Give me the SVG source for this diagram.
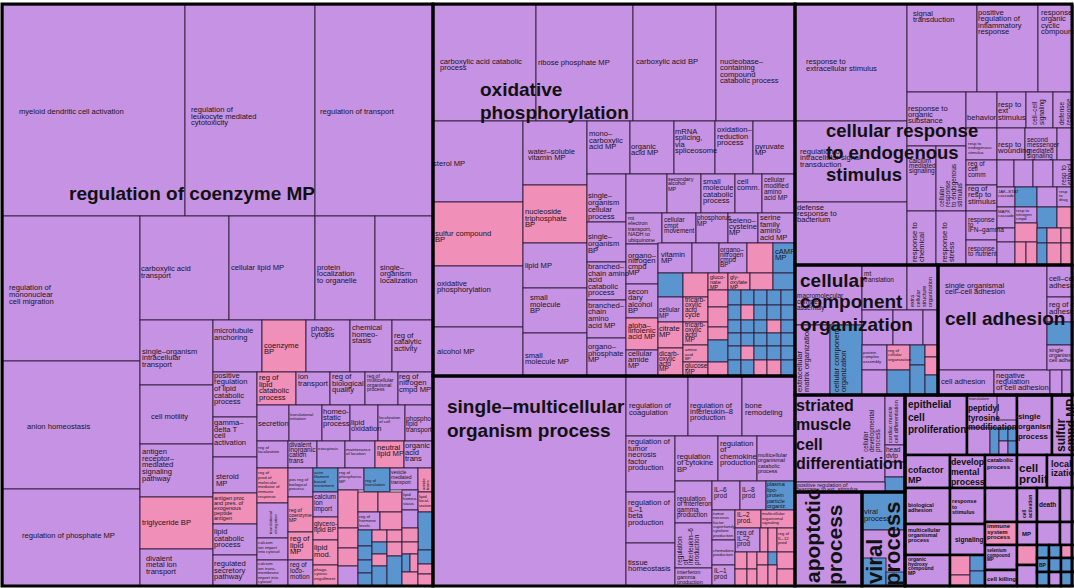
<svg xmlns="http://www.w3.org/2000/svg" width="1074" height="588" viewBox="0 0 1074 588">
<style>
.p{fill:#c692e3;stroke:#2e1c38;stroke-width:.9}
.k{fill:#f08fb8;stroke:#2e1c38;stroke-width:.9}
.b{fill:#5b95cf;stroke:#2e1c38;stroke-width:.9}
.q{stroke:#000;stroke-width:2.5}
text{font-family:"Liberation Sans",Arial,Helvetica,sans-serif;fill:#1c1420}
.t{font-size:7.6px}
.u{font-size:6.5px}
.v{font-size:5.5px}
.s{font-size:5px}
.x{font-size:4.3px}
.B{font-weight:bold;fill:#111}
.L{font-size:19px;font-weight:bold;fill:#111}
</style>
<rect width="1074" height="588" fill="#fff"/>

<g id="node-regulation-of-coenzyme-MP">
<rect class="p" x="3" y="5" width="182" height="211"/>
<rect class="p" x="185" y="5" width="130" height="211"/>
<rect class="p" x="315" y="5" width="118" height="211"/>
<rect class="p" x="3" y="216" width="137" height="145"/>
<rect class="p" x="140" y="216" width="89" height="104"/>
<rect class="p" x="229" y="216" width="86" height="104"/>
<rect class="p" x="315" y="216" width="60" height="104"/>
<rect class="p" x="375" y="216" width="58" height="104"/>
<rect class="p" x="3" y="361" width="137" height="128"/>
<rect class="p" x="3" y="489" width="137" height="97"/>
<rect class="p" x="140" y="320" width="73" height="65"/>
<rect class="p" x="140" y="385" width="73" height="59"/>
<rect class="p" x="140" y="444" width="73" height="53"/>
<rect class="k" x="140" y="497" width="73" height="52"/>
<rect class="p" x="140" y="549" width="73" height="37"/>
<rect class="p" x="213" y="320" width="49" height="52"/>
<rect class="k" x="262" y="320" width="44" height="52"/>
<rect class="p" x="306" y="320" width="44" height="52"/>
<rect class="p" x="350" y="320" width="42" height="52"/>
<rect class="p" x="392" y="320" width="41" height="52"/>
<rect class="p" x="213" y="372" width="44" height="45"/>
<rect class="k" x="257" y="372" width="39" height="33"/>
<rect class="p" x="296" y="372" width="34" height="33"/>
<rect class="p" x="330" y="372" width="35" height="33"/>
<rect class="p" x="365" y="372" width="33" height="33"/>
<rect class="p" x="398" y="372" width="35" height="33"/>
<rect class="p" x="213" y="417" width="44" height="40"/>
<rect class="p" x="213" y="457" width="44" height="36"/>
<rect class="k" x="213" y="493" width="44" height="31"/>
<rect class="p" x="213" y="524" width="44" height="31"/>
<rect class="p" x="213" y="555" width="44" height="31"/>
<rect class="p" x="257" y="405" width="32" height="36"/>
<rect class="p" x="289" y="405" width="33" height="36"/>
<rect class="p" x="322" y="405" width="28" height="36"/>
<rect class="p" x="350" y="405" width="28" height="36"/>
<rect class="p" x="378" y="405" width="27" height="36"/>
<rect class="p" x="405" y="405" width="28" height="36"/>
<rect class="p" x="257" y="441" width="31" height="27"/>
<rect class="p" x="288" y="441" width="29" height="27"/>
<rect class="p" x="317" y="441" width="28" height="27"/>
<rect class="p" x="345" y="441" width="30" height="27"/>
<rect class="k" x="375" y="441" width="29" height="27"/>
<rect class="p" x="404" y="441" width="29" height="27"/>
<rect class="k" x="257" y="468" width="31" height="35"/>
<rect class="p" x="257" y="503" width="31" height="35"/>
<rect class="p" x="257" y="538" width="31" height="22"/>
<rect class="p" x="257" y="560" width="31" height="26"/>
<rect class="p" x="288" y="468" width="25" height="29"/>
<rect class="k" x="288" y="497" width="25" height="35"/>
<rect class="k" x="288" y="532" width="25" height="28"/>
<rect class="p" x="288" y="560" width="25" height="26"/>
<rect class="b" x="313" y="468" width="25" height="24"/>
<rect class="p" x="313" y="492" width="25" height="25"/>
<rect class="k" x="313" y="517" width="25" height="23"/>
<rect class="k" x="313" y="540" width="25" height="25"/>
<rect class="k" x="313" y="565" width="25" height="21"/>
<rect class="p" x="338" y="468" width="26" height="22"/>
<rect class="b" x="364" y="468" width="26" height="24"/>
<rect class="p" x="390" y="468" width="28" height="22"/>
<rect class="k" x="418" y="468" width="15" height="24"/>
<rect class="k" x="338" y="490" width="20" height="38"/>
<rect class="k" x="358" y="492" width="20" height="20"/>
<rect class="k" x="378" y="492" width="24" height="20"/>
<rect class="p" x="402" y="490" width="16" height="20"/>
<rect class="k" x="418" y="492" width="15" height="20"/>
<rect class="p" x="358" y="512" width="22" height="18"/>
<rect class="k" x="380" y="512" width="22" height="18"/>
<rect class="p" x="402" y="510" width="16" height="18"/>
<rect class="b" x="418" y="512" width="15" height="38"/>
<rect class="k" x="338" y="528" width="20" height="20"/>
<rect class="k" x="338" y="548" width="20" height="18"/>
<rect class="p" x="338" y="566" width="20" height="20"/>
<rect class="b" x="358" y="530" width="14" height="16"/>
<rect class="b" x="358" y="546" width="14" height="14"/>
<rect class="b" x="358" y="560" width="14" height="13"/>
<rect class="b" x="358" y="573" width="14" height="13"/>
<rect class="k" x="372" y="530" width="15" height="12"/>
<rect class="b" x="372" y="542" width="15" height="12"/>
<rect class="k" x="372" y="554" width="15" height="12"/>
<rect class="b" x="372" y="566" width="15" height="20"/>
<rect class="k" x="387" y="530" width="15" height="12"/>
<rect class="k" x="387" y="542" width="15" height="14"/>
<rect class="b" x="387" y="556" width="15" height="30"/>
<rect class="k" x="402" y="528" width="16" height="14"/>
<rect class="k" x="402" y="542" width="16" height="12"/>
<rect class="b" x="402" y="554" width="8" height="18"/>
<rect class="k" x="410" y="554" width="8" height="18"/>
<rect class="k" x="402" y="572" width="16" height="14"/>
<rect class="b" x="418" y="550" width="15" height="14"/>
<rect class="k" x="418" y="564" width="15" height="10"/>
<rect class="k" x="418" y="574" width="15" height="12"/>
<text class="t" x="19" y="113.5">myeloid dendritic cell activation</text>
<text class="t" x="191" y="112">regulation of<tspan x="191" dy="6.7">leukocyte mediated</tspan><tspan x="191" dy="6.7">cytotoxicity</tspan></text>
<text class="t" x="320" y="113.5">regulation of transport</text>
<text class="t" x="9" y="290">regulation of<tspan x="9" dy="7">mononuclear</tspan><tspan x="9" dy="7">cell migration</tspan></text>
<text class="t" x="141" y="271">carboxylic acid<tspan x="141" dy="6.7">transport</tspan></text>
<text class="t" x="231" y="269.5">cellular lipid MP</text>
<text class="t" x="317" y="269.5">protein<tspan x="317" dy="6.7">localization</tspan><tspan x="317" dy="6.7">to organelle</tspan></text>
<text class="t" x="380" y="269.5">single–<tspan x="380" dy="6.7">organism</tspan><tspan x="380" dy="6.7">localization</tspan></text>
<text class="t" x="27" y="428.5">anion homeostasis</text>
<text class="t" x="22" y="538">regulation of phosphate MP</text>
<text class="t" x="142" y="353.5">single–organism<tspan x="142" dy="6.7">intracellular</tspan><tspan x="142" dy="6.7">transport</tspan></text>
<text class="t" x="151" y="418.5">cell motility</text>
<text class="t" x="142" y="454">antigen<tspan x="142" dy="6.7">receptor–</tspan><tspan x="142" dy="6.7">mediated</tspan><tspan x="142" dy="6.7">signaling</tspan><tspan x="142" dy="6.7">pathway</tspan></text>
<text class="t" x="142" y="525">triglyceride BP</text>
<text class="t" x="146" y="560.5">divalent<tspan x="146" dy="6.8">metal ion</tspan><tspan x="146" dy="6.8">transport</tspan></text>
<text class="t" x="214" y="332.5">microtubule<tspan x="214" dy="7">anchoring</tspan></text>
<text class="t" x="264" y="347.5">coenzyme<tspan x="264" dy="6.5">BP</tspan></text>
<text class="t" x="311" y="331">phago-<tspan x="311" dy="6">cytosis</tspan></text>
<text class="t" x="352" y="330">chemical<tspan x="352" dy="6.5">homeo-</tspan><tspan x="352" dy="6.5">stasis</tspan></text>
<text class="t" x="394" y="337.5">reg of<tspan x="394" dy="6.6">catalytic</tspan><tspan x="394" dy="6.6">activity</tspan></text>
<text class="t" x="214" y="377.5">positive<tspan x="214" dy="6.7">regulation</tspan><tspan x="214" dy="6.7">of lipid</tspan><tspan x="214" dy="6.7">catabolic</tspan><tspan x="214" dy="6.7">process</tspan></text>
<text class="t" x="259" y="380">reg of<tspan x="259" dy="6.7">lipid</tspan><tspan x="259" dy="6.7">catabolic</tspan><tspan x="259" dy="6.7">process</tspan></text>
<text class="t" x="298" y="379">ion<tspan x="298" dy="6.7">transport</tspan></text>
<text class="t" x="332" y="379">reg of<tspan x="332" dy="6.7">biological</tspan><tspan x="332" dy="6.7">quality</tspan></text>
<text class="s" x="367" y="377.5">reg of<tspan x="367" dy="4.6">multicellular</tspan><tspan x="367" dy="4.6">organismal</tspan><tspan x="367" dy="4.6">process</tspan></text>
<text class="t" x="399" y="379">reg of<tspan x="399" dy="6.3">nitrogen</tspan><tspan x="399" dy="6.3">cmpd MP</tspan></text>
<text class="t" x="214" y="425">gamma–<tspan x="214" dy="6.7">delta T</tspan><tspan x="214" dy="6.7">cell</tspan><tspan x="214" dy="6.7">activation</tspan></text>
<text class="t" x="216" y="479">steroid<tspan x="216" dy="6.7">MP</tspan></text>
<text class="v" x="214" y="499.5">antigen proc<tspan x="214" dy="5">and pres. of</tspan><tspan x="214" dy="5">exogenous</tspan><tspan x="214" dy="5">peptide</tspan><tspan x="214" dy="5">antigen</tspan></text>
<text class="t" x="214" y="534">lipid<tspan x="214" dy="6.5">catabolic</tspan><tspan x="214" dy="6.5">process</tspan></text>
<text class="t" x="214" y="566">regulated<tspan x="214" dy="6.5">secretory</tspan><tspan x="214" dy="6.5">pathway</tspan></text>
<text class="t" x="258" y="426">secretion</text>
<text class="x" x="290" y="415.5">translational<tspan x="290" dy="4.5">initiation</tspan></text>
<text class="t" x="323" y="414">homeo-<tspan x="323" dy="6">static</tspan><tspan x="323" dy="6">process</tspan></text>
<text class="t" x="351" y="425">lipid<tspan x="351" dy="6">oxidation</tspan></text>
<text class="x" x="379" y="419">localization<tspan x="379" dy="4">of cell</tspan></text>
<text class="u" x="406" y="420.5">phospho<tspan x="406" dy="5.5">lipid</tspan><tspan x="406" dy="5.5">transport</tspan></text>
<text class="x" x="258" y="449">reg of<tspan x="258" dy="4">localization</tspan></text>
<text class="u" x="289" y="447">divalent<tspan x="289" dy="5.2">inorganic</tspan><tspan x="289" dy="5.2">cation</tspan><tspan x="289" dy="5.2">trans</tspan></text>
<text class="x" x="318" y="450">exocytosis</text>
<text class="x" x="346" y="450.5">maintenance<tspan x="346" dy="4">of location</tspan></text>
<text class="t" x="377" y="449.5">neutral<tspan x="377" dy="6.5">lipid MP</tspan></text>
<text class="t" x="405" y="448">organic<tspan x="405" dy="6.7">acid</tspan><tspan x="405" dy="6.7">trans</tspan></text>
<text class="x" x="258" y="474">reg of<tspan x="258" dy="4.8">prod of</tspan><tspan x="258" dy="4.8">molecular</tspan><tspan x="258" dy="4.8">mediator of</tspan><tspan x="258" dy="4.8">immune</tspan><tspan x="258" dy="4.8">response</tspan></text>
<text class="x" transform="rotate(-90 272 534)" x="272" y="534">translational<tspan x="272" dy="4.6">elongation</tspan></text>
<text class="x" x="258" y="544">calcium<tspan x="258" dy="4.6">ion import</tspan><tspan x="258" dy="4.6">into cytosol</tspan></text>
<text class="x" x="258" y="565">calcium<tspan x="258" dy="4.5">ion trans-</tspan><tspan x="258" dy="4.5">membrane</tspan><tspan x="258" dy="4.5">import into</tspan><tspan x="258" dy="4.5">cytosol</tspan></text>
<text class="x" x="289" y="481">pos reg of<tspan x="289" dy="4.5">biological</tspan><tspan x="289" dy="4.5">process</tspan></text>
<text class="s" x="289" y="512">reg of<tspan x="289" dy="5">coenzyme</tspan><tspan x="289" dy="5">MP</tspan></text>
<text class="t" x="290" y="541">reg of<tspan x="290" dy="6.5">lipid</tspan><tspan x="290" dy="6.5">MP</tspan></text>
<text class="u" x="290" y="567">reg of<tspan x="290" dy="5.8">loco-</tspan><tspan x="290" dy="5.8">motion</tspan></text>
<text class="x" x="314" y="474">actin<tspan x="314" dy="4.3">filament</tspan><tspan x="314" dy="4.3">based</tspan><tspan x="314" dy="4.3">movement</tspan></text>
<text class="u" x="314" y="499">calcium<tspan x="314" dy="5.8">ion</tspan><tspan x="314" dy="5.8">import</tspan></text>
<text class="u" x="314" y="526">glycero-<tspan x="314" dy="6">lipid BP</tspan></text>
<text class="t" x="314" y="550">lipid<tspan x="314" dy="6.5">mod.</tspan></text>
<text class="x" x="314" y="571">phago-<tspan x="314" dy="4.3">cytosis</tspan><tspan x="314" dy="4.3">engulfment</tspan></text>
<text class="x" x="339" y="474">reg of<tspan x="339" dy="4.3">phosphorus</tspan><tspan x="339" dy="4.3">MP</tspan></text>
<text class="x" x="365" y="482">reg of<tspan x="365" dy="4.3">translation</tspan></text>
<text class="s" x="391" y="474">vesicle<tspan x="391" dy="5">mediated</tspan><tspan x="391" dy="5">transport</tspan></text>
<text class="x" transform="rotate(-90 425 490)" x="425" y="490">amide<tspan x="425" dy="4.3">trans</tspan></text>
<text class="x" x="403" y="496">lipid<tspan x="403" dy="4.3">homeo-</tspan><tspan x="403" dy="4.3">stasis</tspan></text>
<text class="x" x="419" y="498">lipid<tspan x="419" dy="4.3">local-</tspan><tspan x="419" dy="4.3">ization</tspan></text>
<text class="x" x="359" y="518">reg of<tspan x="359" dy="4.3">hormone</tspan><tspan x="359" dy="4.3">levels</tspan></text>
</g>

<g id="node-oxidative-phosphorylation">
<rect class="p" x="433" y="5" width="103" height="116"/>
<rect class="p" x="536" y="5" width="97" height="116"/>
<rect class="p" x="633" y="5" width="83" height="116"/>
<rect class="p" x="716" y="5" width="79" height="116"/>
<rect class="p" x="433" y="121" width="90" height="81"/>
<rect class="k" x="433" y="202" width="90" height="64"/>
<rect class="p" x="433" y="266" width="90" height="61"/>
<rect class="p" x="433" y="327" width="90" height="49"/>
<rect class="p" x="523" y="121" width="64" height="64"/>
<rect class="k" x="523" y="185" width="64" height="58"/>
<rect class="p" x="523" y="243" width="64" height="45"/>
<rect class="p" x="523" y="288" width="64" height="45"/>
<rect class="p" x="523" y="333" width="64" height="43"/>
<rect class="p" x="587" y="121" width="43" height="53"/>
<rect class="p" x="630" y="121" width="44" height="53"/>
<rect class="p" x="674" y="121" width="41" height="53"/>
<rect class="p" x="715" y="121" width="38" height="53"/>
<rect class="p" x="753" y="121" width="42" height="53"/>
<rect class="p" x="587" y="174" width="39" height="48"/>
<rect class="p" x="587" y="222" width="39" height="40"/>
<rect class="p" x="587" y="262" width="39" height="38"/>
<rect class="p" x="587" y="300" width="39" height="38"/>
<rect class="p" x="587" y="338" width="39" height="38"/>
<rect class="p" x="626" y="174" width="41" height="39"/>
<rect class="p" x="667" y="174" width="34" height="39"/>
<rect class="p" x="701" y="174" width="34" height="39"/>
<rect class="p" x="735" y="174" width="27" height="39"/>
<rect class="p" x="762" y="174" width="33" height="39"/>
<rect class="p" x="626" y="213" width="36" height="31"/>
<rect class="p" x="662" y="213" width="34" height="30"/>
<rect class="p" x="696" y="213" width="32" height="30"/>
<rect class="p" x="728" y="213" width="30" height="30"/>
<rect class="p" x="758" y="213" width="37" height="30"/>
<rect class="p" x="626" y="244" width="32" height="40"/>
<rect class="p" x="626" y="284" width="32" height="34"/>
<rect class="k" x="626" y="318" width="32" height="32"/>
<rect class="p" x="626" y="350" width="32" height="26"/>
<rect class="p" x="658" y="243" width="34" height="30"/>
<rect class="p" x="692" y="243" width="27" height="30"/>
<rect class="p" x="719" y="243" width="28" height="30"/>
<rect class="k" x="747" y="243" width="26" height="30"/>
<rect class="b" x="773" y="243" width="22" height="30"/>
<rect class="b" x="658" y="273" width="25" height="24"/>
<rect class="p" x="658" y="297" width="25" height="25"/>
<rect class="k" x="658" y="322" width="25" height="26"/>
<rect class="k" x="658" y="348" width="25" height="28"/>
<rect class="k" x="683" y="273" width="25" height="24"/>
<rect class="k" x="683" y="297" width="25" height="25"/>
<rect class="k" x="683" y="322" width="25" height="23"/>
<rect class="k" x="683" y="345" width="25" height="17"/>
<rect class="k" x="683" y="362" width="25" height="14"/>
<rect class="k" x="708" y="273" width="20" height="17"/>
<rect class="k" x="728" y="273" width="22" height="17"/>
<rect class="k" x="750" y="273" width="23" height="17"/>
<rect class="b" x="773" y="273" width="22" height="17"/>
<rect class="k" x="708" y="290" width="20" height="17"/>
<rect class="k" x="708" y="307" width="20" height="20"/>
<rect class="k" x="708" y="327" width="20" height="13"/>
<rect class="b" x="708" y="340" width="20" height="22"/>
<rect class="k" x="708" y="362" width="20" height="14"/>
<rect class="b" x="728" y="290" width="13" height="15"/><rect class="b" x="741" y="290" width="13" height="15"/><rect class="b" x="754" y="290" width="13" height="15"/><rect class="b" x="767" y="290" width="14" height="15"/><rect class="b" x="781" y="290" width="14" height="15"/>
<rect class="b" x="728" y="305" width="13" height="15"/><rect class="k" x="741" y="305" width="13" height="15"/><rect class="b" x="754" y="305" width="13" height="15"/><rect class="b" x="767" y="305" width="14" height="15"/><rect class="b" x="781" y="305" width="14" height="15"/>
<rect class="b" x="728" y="320" width="13" height="13"/><rect class="b" x="741" y="320" width="13" height="13"/><rect class="b" x="754" y="320" width="13" height="13"/><rect class="k" x="767" y="320" width="14" height="13"/><rect class="b" x="781" y="320" width="14" height="13"/>
<rect class="b" x="728" y="333" width="13" height="13"/><rect class="b" x="741" y="333" width="13" height="13"/><rect class="b" x="754" y="333" width="13" height="13"/><rect class="b" x="767" y="333" width="14" height="13"/><rect class="b" x="781" y="333" width="14" height="13"/>
<rect class="b" x="728" y="346" width="13" height="14"/><rect class="k" x="741" y="346" width="13" height="14"/><rect class="b" x="754" y="346" width="13" height="14"/><rect class="b" x="767" y="346" width="14" height="14"/><rect class="b" x="781" y="346" width="14" height="14"/>
<rect class="b" x="728" y="360" width="13" height="16"/><rect class="b" x="741" y="360" width="13" height="16"/><rect class="k" x="754" y="360" width="13" height="16"/><rect class="k" x="767" y="360" width="14" height="16"/><rect class="b" x="781" y="360" width="14" height="16"/>
<text class="t" x="440" y="64">carboxylic acid catabolic<tspan x="440" dy="6.3">process</tspan></text>
<text class="t" x="538" y="64.5">ribose phosphate MP</text>
<text class="t" x="636" y="63.5">carboxylic acid BP</text>
<text class="t" x="720" y="63.5">nucleobase–<tspan x="720" dy="6.5">containing</tspan><tspan x="720" dy="6.5">compound</tspan><tspan x="720" dy="6.5">catabolic process</tspan></text>
<text class="t" x="433" y="165.5">sterol MP</text>
<text class="t" x="528" y="154">water–soluble<tspan x="528" dy="6">vitamin MP</tspan></text>
<text class="t" x="435" y="236">sulfur compound<tspan x="435" dy="6">BP</tspan></text>
<text class="t" x="437" y="286">oxidative<tspan x="437" dy="6">phosphorylation</tspan></text>
<text class="t" x="437" y="354">alcohol MP</text>
<text class="t" x="525" y="214">nucleoside<tspan x="525" dy="6.5">triphosphate</tspan><tspan x="525" dy="6.5">BP</tspan></text>
<text class="t" x="525" y="267.5">lipid MP</text>
<text class="t" x="530" y="300">small<tspan x="530" dy="6.5">molecule</tspan><tspan x="530" dy="6.5">BP</tspan></text>
<text class="t" x="525" y="358">small<tspan x="525" dy="6">molecule MP</tspan></text>
<text class="t" x="589" y="136">mono–<tspan x="589" dy="6.5">carboxylic</tspan><tspan x="589" dy="6.5">acid MP</tspan></text>
<text class="t" x="631" y="149">organic<tspan x="631" dy="6">acid MP</tspan></text>
<text class="t" x="675" y="133.5">mRNA<tspan x="675" dy="6.5">splicing,</tspan><tspan x="675" dy="6.5">via</tspan><tspan x="675" dy="6.5">spliceosome</tspan></text>
<text class="t" x="717" y="132">oxidation–<tspan x="717" dy="6.5">reduction</tspan><tspan x="717" dy="6.5">process</tspan></text>
<text class="t" x="755" y="149">pyruvate<tspan x="755" dy="5.5">MP</tspan></text>
<text class="t" x="588" y="197.5">single–<tspan x="588" dy="7">organism</tspan><tspan x="588" dy="7">cellular</tspan><tspan x="588" dy="7">process</tspan></text>
<text class="v" x="668" y="180.5">secondary<tspan x="668" dy="4.8">alcohol</tspan><tspan x="668" dy="5.5">MP</tspan></text>
<text class="t" x="703" y="183.5">small<tspan x="703" dy="6.5">molecule</tspan><tspan x="703" dy="6.5">catabolic</tspan><tspan x="703" dy="6.5">process</tspan></text>
<text class="t" x="737" y="183.5">cell<tspan x="737" dy="6.5">comm.</tspan></text>
<text class="u" x="764" y="181.5">cellular<tspan x="764" dy="6">modified</tspan><tspan x="764" dy="6">amino</tspan><tspan x="764" dy="6">acid MP</tspan></text>
<text class="t" x="588" y="239">single–<tspan x="588" dy="7">organism</tspan><tspan x="588" dy="7">BP</tspan></text>
<text class="t" x="588" y="269">branched–<tspan x="588" dy="6.5">chain amino</tspan><tspan x="588" dy="6.5">acid</tspan><tspan x="588" dy="6.5">catabolic</tspan><tspan x="588" dy="6.5">process</tspan></text>
<text class="t" x="588" y="307.5">branched–<tspan x="588" dy="6.7">chain</tspan><tspan x="588" dy="6.7">amino</tspan><tspan x="588" dy="6.7">acid MP</tspan></text>
<text class="t" x="588" y="349">organo–<tspan x="588" dy="6.7">phosphate</tspan><tspan x="588" dy="6.7">MP</tspan></text>
<text class="v" x="628" y="219.5">mt<tspan x="628" dy="5.5">electron</tspan><tspan x="628" dy="5.5">transport,</tspan><tspan x="628" dy="5.5">NADH to</tspan><tspan x="628" dy="5.5">ubiquinone</tspan></text>
<text class="u" x="664" y="222">cellular<tspan x="664" dy="5.5">cmpt</tspan><tspan x="664" dy="5.5">movement</tspan></text>
<text class="u" x="697" y="220">phosphorus<tspan x="697" dy="5.5">MP</tspan></text>
<text class="t" x="729" y="222.5">seleno–<tspan x="729" dy="6">cysteine</tspan><tspan x="729" dy="6">MP</tspan></text>
<text class="t" x="760" y="220">serine<tspan x="760" dy="6.5">family</tspan><tspan x="760" dy="6.5">amino</tspan><tspan x="760" dy="6.5">acid MP</tspan></text>
<text class="t" x="628" y="257.5">organo–<tspan x="628" dy="5.7">nitrogen</tspan><tspan x="628" dy="5.7">cmpd</tspan><tspan x="628" dy="5.7">MP</tspan></text>
<text class="t" x="661" y="257">vitamin<tspan x="661" dy="6">MP</tspan></text>
<text class="u" x="720" y="252">organo–<tspan x="720" dy="5">nitrogen</tspan><tspan x="720" dy="5">cmpd</tspan><tspan x="720" dy="5">BP</tspan></text>
<text class="t" x="775" y="254">cAMP<tspan x="775" dy="5.5">MP</tspan></text>
<text class="t" x="628" y="294">secon<tspan x="628" dy="6.3">dary</tspan><tspan x="628" dy="6.3">alcohol</tspan><tspan x="628" dy="6.3">BP</tspan></text>
<text class="t" x="628" y="327.5">alpha–<tspan x="628" dy="5.5">linolenic</tspan><tspan x="628" dy="5.5">acid MP</tspan></text>
<text class="t" x="628" y="356">cellular<tspan x="628" dy="6">amide</tspan><tspan x="628" dy="6">MP</tspan></text>
<text class="u" x="659" y="312">cellular<tspan x="659" dy="6">MP</tspan></text>
<text class="t" x="659" y="331">citrate<tspan x="659" dy="5.5">MP</tspan></text>
<text class="u" x="659" y="355.5">dicarb-<tspan x="659" dy="5">oxylic</tspan><tspan x="659" dy="5">acid</tspan><tspan x="659" dy="5">MP</tspan></text>
<text class="u" x="685" y="302">tricarb-<tspan x="685" dy="5">oxylic</tspan><tspan x="685" dy="5">acid</tspan><tspan x="685" dy="5">cycle</tspan></text>
<text class="u" x="685" y="327">tricarb-<tspan x="685" dy="5">oxylic</tspan><tspan x="685" dy="5">acid</tspan><tspan x="685" dy="5">MP</tspan></text>
<text class="x" x="685" y="351">amino<tspan x="685" dy="4.5">acid</tspan><tspan x="685" dy="4.5">BP</tspan></text>
<text class="u" x="685" y="368">glucose<tspan x="685" dy="5.5">MP</tspan></text>
<text class="v" x="710" y="278.5">gluco-<tspan x="710" dy="5">nate</tspan><tspan x="710" dy="5">MP</tspan></text>
<text class="v" x="730" y="278.5">gly-<tspan x="730" dy="5">oxylate</tspan><tspan x="730" dy="5">MP</tspan></text>
</g>

<g id="node-single-multicellular-organism-process">
<rect class="p" x="433" y="376" width="193" height="210"/>
<rect class="p" x="626" y="376" width="62" height="60"/>
<rect class="p" x="688" y="376" width="54" height="60"/>
<rect class="p" x="742" y="376" width="53" height="60"/>
<rect class="p" x="626" y="436" width="49" height="56"/>
<rect class="p" x="675" y="436" width="43" height="45"/>
<rect class="p" x="718" y="436" width="39" height="45"/>
<rect class="p" x="757" y="436" width="38" height="45"/>
<rect class="p" x="626" y="492" width="49" height="51"/>
<rect class="p" x="626" y="543" width="49" height="43"/>
<rect class="p" x="675" y="481" width="37" height="42"/>
<rect class="p" x="675" y="523" width="37" height="45"/>
<rect class="p" x="675" y="568" width="37" height="18"/>
<rect class="p" x="712" y="481" width="28" height="29"/>
<rect class="p" x="740" y="481" width="26" height="29"/>
<rect class="b" x="766" y="481" width="29" height="29"/>
<rect class="p" x="712" y="510" width="23" height="30"/>
<rect class="k" x="735" y="510" width="26" height="18"/>
<rect class="k" x="761" y="510" width="34" height="18"/>
<rect class="p" x="735" y="528" width="25" height="24"/>
<rect class="k" x="760" y="528" width="8" height="24"/>
<rect class="k" x="768" y="528" width="9" height="24"/>
<rect class="k" x="777" y="528" width="18" height="24"/>
<rect class="p" x="712" y="540" width="23" height="25"/>
<rect class="p" x="712" y="565" width="23" height="21"/>
<rect class="k" x="735" y="552" width="12" height="17"/>
<rect class="k" x="747" y="552" width="10" height="17"/>
<rect class="k" x="757" y="552" width="11" height="13"/>
<rect class="b" x="768" y="552" width="9" height="13"/>
<rect class="k" x="777" y="552" width="18" height="17"/>
<rect class="k" x="735" y="569" width="12" height="17"/>
<rect class="k" x="747" y="569" width="10" height="17"/>
<rect class="k" x="757" y="565" width="11" height="21"/>
<rect class="k" x="768" y="565" width="9" height="21"/>
<rect class="k" x="777" y="569" width="18" height="17"/>
<text class="t" x="629" y="408">regulation of<tspan x="629" dy="6.5">coagulation</tspan></text>
<text class="t" x="690" y="407.5">regulation of<tspan x="690" dy="6.3">interleukin–8</tspan><tspan x="690" dy="6.3">production</tspan></text>
<text class="t" x="745" y="408">bone<tspan x="745" dy="6.5">remodeling</tspan></text>
<text class="t" x="628" y="444">regulation of<tspan x="628" dy="6.5">tumor</tspan><tspan x="628" dy="6.5">necrosis</tspan><tspan x="628" dy="6.5">factor</tspan><tspan x="628" dy="6.5">production</tspan></text>
<text class="t" x="677" y="458.5">regulation<tspan x="677" dy="6.5">of cytokine</tspan><tspan x="677" dy="6.5">BP</tspan></text>
<text class="t" x="720" y="445.5">regulation<tspan x="720" dy="6.5">of</tspan><tspan x="720" dy="6.5">chemokine</tspan><tspan x="720" dy="6.5">production</tspan></text>
<text class="v" x="758" y="457">multicellular<tspan x="758" dy="5.3">organismal</tspan><tspan x="758" dy="5.3">catabolic</tspan><tspan x="758" dy="5.3">process</tspan></text>
<text class="t" x="628" y="505">regulation of<tspan x="628" dy="6.7">IL–1</tspan><tspan x="628" dy="6.7">beta</tspan><tspan x="628" dy="6.7">production</tspan></text>
<text class="t" x="628" y="565">tissue<tspan x="628" dy="6">homeostasis</tspan></text>
<text class="u" x="677" y="500.5">regulation<tspan x="677" dy="5.5">of interferon</tspan><tspan x="677" dy="5.5">gamma</tspan><tspan x="677" dy="5.5">production</tspan></text>
<text class="u" transform="rotate(-90 682 565)" x="682" y="565">regulation<tspan x="682" dy="5.5">of</tspan><tspan x="682" dy="5.5">interleukin–6</tspan><tspan x="682" dy="5.5">production</tspan></text>
<text class="v" x="677" y="573.5">interferon<tspan x="677" dy="5.3">gamma</tspan><tspan x="677" dy="5.3">production</tspan></text>
<text class="u" x="714" y="492">IL–6<tspan x="714" dy="5.5">prod</tspan></text>
<text class="u" x="742" y="492">IL–8<tspan x="742" dy="5.5">prod</tspan></text>
<text class="v" x="767" y="486">plasma<tspan x="767" dy="5.5">lipo-</tspan><tspan x="767" dy="5.5">protein</tspan><tspan x="767" dy="5.5">particle</tspan><tspan x="767" dy="5.5">organiz.</tspan></text>
<text class="x" x="713" y="515">tumor<tspan x="713" dy="4.3">necrosis</tspan><tspan x="713" dy="4.3">factor</tspan><tspan x="713" dy="4.3">superfamily</tspan><tspan x="713" dy="4.3">cytokine</tspan><tspan x="713" dy="4.3">production</tspan></text>
<text class="u" x="737" y="517">IL–2<tspan x="737" dy="5.5">prod.</tspan></text>
<text class="x" x="762" y="515">multicellular<tspan x="762" dy="4.5">organismal</tspan><tspan x="762" dy="4.5">signaling</tspan></text>
<text class="u" x="737" y="535">reg of<tspan x="737" dy="5.5">IL–2</tspan><tspan x="737" dy="5.5">prod</tspan></text>
<text class="x" x="778" y="535">reg of<tspan x="778" dy="4.5">IL–12</tspan><tspan x="778" dy="4.5">prod</tspan></text>
<text class="x" x="713" y="552">chemokine<tspan x="713" dy="4.2">production</tspan></text>
<text class="u" x="714" y="573">IL–1<tspan x="714" dy="5.5">prod</tspan></text>
</g>

<g id="node-cellular-response-to-endogenous-stimulus">
<rect class="p" x="795" y="5" width="112" height="116"/>
<rect class="p" x="907" y="5" width="70" height="87"/>
<rect class="p" x="977" y="5" width="61" height="87"/>
<rect class="p" x="1038" y="5" width="36" height="87"/>
<rect class="p" x="795" y="121" width="112" height="81"/>
<rect class="p" x="795" y="202" width="112" height="63"/>
<rect class="p" x="907" y="92" width="59" height="54"/>
<rect class="p" x="966" y="92" width="31" height="36"/>
<rect class="p" x="997" y="92" width="29" height="36"/>
<rect class="p" x="1026" y="92" width="27" height="36"/>
<rect class="p" x="1053" y="92" width="21" height="36"/>
<rect class="p" x="907" y="146" width="29" height="65"/>
<rect class="p" x="936" y="146" width="30" height="65"/>
<rect class="p" x="907" y="211" width="29" height="54"/>
<rect class="p" x="936" y="211" width="30" height="54"/>
<rect class="p" x="966" y="128" width="31" height="32"/>
<rect class="p" x="997" y="128" width="28" height="32"/>
<rect class="p" x="1025" y="128" width="32" height="32"/>
<rect class="p" x="1057" y="128" width="17" height="32"/>
<rect class="p" x="966" y="160" width="31" height="25"/>
<rect class="p" x="966" y="185" width="31" height="26"/>
<rect class="p" x="966" y="211" width="31" height="29"/>
<rect class="p" x="966" y="240" width="31" height="25"/>
<rect class="p" x="997" y="160" width="17" height="27"/>
<rect class="p" x="1014" y="160" width="19" height="27"/>
<rect class="p" x="1033" y="160" width="20" height="27"/>
<rect class="p" x="1053" y="160" width="21" height="27"/>
<rect class="p" x="997" y="187" width="18" height="20"/>
<rect class="b" x="1015" y="187" width="22" height="20"/>
<rect class="p" x="1037" y="187" width="20" height="20"/>
<rect class="p" x="1057" y="187" width="17" height="20"/>
<rect class="p" x="997" y="207" width="18" height="21"/>
<rect class="p" x="1015" y="207" width="22" height="16"/>
<rect class="b" x="1037" y="207" width="20" height="21"/>
<rect class="k" x="1057" y="207" width="17" height="21"/>
<rect class="p" x="997" y="228" width="18" height="14"/>
<rect class="k" x="1015" y="223" width="22" height="19"/>
<rect class="b" x="1037" y="228" width="10" height="15"/>
<rect class="k" x="1047" y="228" width="14" height="15"/>
<rect class="k" x="1061" y="228" width="13" height="15"/>
<rect class="p" x="997" y="242" width="18" height="23"/>
<rect class="k" x="1015" y="242" width="11" height="23"/>
<rect class="k" x="1026" y="242" width="11" height="23"/>
<rect class="b" x="1037" y="243" width="10" height="22"/>
<rect class="k" x="1047" y="243" width="14" height="22"/>
<rect class="k" x="1061" y="243" width="13" height="22"/>
<text class="t" x="806" y="64">response to<tspan x="806" dy="6.7">extracellular stimulus</tspan></text>
<text class="t" x="913" y="15.5">signal<tspan x="913" dy="6.5">transduction</tspan></text>
<text class="t" x="978" y="14.5">positive<tspan x="978" dy="6.5">regulation of</tspan><tspan x="978" dy="6.5">inflammatory</tspan><tspan x="978" dy="6.5">response</tspan></text>
<text class="t" x="1041" y="14.5">response to<tspan x="1041" dy="6.5">organic</tspan><tspan x="1041" dy="6.5">cyclic</tspan><tspan x="1041" dy="6.5">compound</tspan></text>
<text class="t" x="800" y="154">regulation of<tspan x="800" dy="6.3">intracellular signal</tspan><tspan x="800" dy="6.3">transduction</tspan></text>
<text class="t" x="797" y="209.5">defense<tspan x="797" dy="6.3">response to</tspan><tspan x="797" dy="6.3">bacterium</tspan></text>
<text class="t" x="908" y="110.5">response to<tspan x="908" dy="6.3">organic</tspan><tspan x="908" dy="6.3">substance</tspan></text>
<text class="t" x="967" y="119.5">behavior</text>
<text class="t" x="998" y="106.5">resp to<tspan x="998" dy="6.5">ext</tspan><tspan x="998" dy="6.5">stimulus</tspan></text>
<text class="u" transform="rotate(-90 1037 125)" x="1037" y="125">cell–cell<tspan x="1037" dy="6.5">signaling</tspan></text>
<text class="u" transform="rotate(-90 1064 125)" x="1064" y="125">defense<tspan x="1064" dy="6.5">response</tspan></text>
<text class="u" x="909" y="162.5">calcium<tspan x="909" dy="5">mediated</tspan><tspan x="909" dy="5">signaling</tspan></text>
<text class="u" transform="rotate(-90 944 207)" x="944" y="207">cellular<tspan x="944" dy="6">response</tspan><tspan x="944" dy="6">to endogenous</tspan><tspan x="944" dy="6">stimulus</tspan></text>
<text class="t" transform="rotate(-90 917 262)" x="917" y="262">response to<tspan x="917" dy="7">chemical</tspan></text>
<text class="t" transform="rotate(-90 947 262)" x="947" y="262">response to<tspan x="947" dy="7">stress</tspan></text>
<text class="x" x="968" y="145">resp to<tspan x="968" dy="4.3">endogenous</tspan><tspan x="968" dy="4.3">stimulus</tspan></text>
<text class="t" x="998" y="147">resp to<tspan x="998" dy="5.7">wounding</tspan></text>
<text class="u" x="1027" y="142">second<tspan x="1027" dy="5.3">messenger</tspan><tspan x="1027" dy="5.3">mediated</tspan><tspan x="1027" dy="5.3">signaling</tspan></text>
<text class="u" x="968" y="165.5">reg of<tspan x="968" dy="5.6">cell</tspan><tspan x="968" dy="5.6">comm</tspan></text>
<text class="t" x="968" y="190.5">reg of<tspan x="968" dy="6.7">resp to</tspan><tspan x="968" dy="6.7">stimulus</tspan></text>
<text class="u" x="968" y="222">response<tspan x="968" dy="5">to</tspan><tspan x="968" dy="5">IFN–gamma</tspan></text>
<text class="u" x="968" y="250.5">response<tspan x="968" dy="5">to nutrient</tspan></text>
<text class="x" x="998" y="193">JAK–STAT<tspan x="998" dy="4.2">cascade</tspan></text>
<text class="x" x="1059" y="193">resp<tspan x="1059" dy="4.2">to</tspan><tspan x="1059" dy="4.2">drug</tspan></text>
<text class="x" x="998" y="213">MAPK<tspan x="998" dy="4.2">cascade</tspan></text>
<text class="x" x="1016" y="212">resp to<tspan x="1016" dy="4.2">nitrogen</tspan><tspan x="1016" dy="4.2">cmpd</tspan></text>
<text class="u" transform="rotate(-90 1066 185)" x="1066" y="185">resp to<tspan x="1066" dy="6">ethanol</tspan></text>
</g>

<g id="node-cellular-component-organization">
<rect class="p" x="795" y="265" width="67" height="60"/>
<rect class="p" x="862" y="265" width="45" height="45"/>
<rect class="p" x="907" y="265" width="31" height="45"/>
<rect class="p" x="862" y="310" width="31" height="35"/>
<rect class="p" x="893" y="310" width="30" height="35"/>
<rect class="p" x="923" y="310" width="15" height="35"/>
<rect class="p" x="795" y="325" width="35" height="70"/>
<rect class="b" x="830" y="325" width="32" height="70"/>
<rect class="p" x="862" y="345" width="25" height="25"/>
<rect class="k" x="887" y="345" width="23" height="25"/>
<rect class="b" x="910" y="345" width="15" height="20"/>
<rect class="k" x="925" y="345" width="13" height="12"/>
<rect class="p" x="862" y="370" width="25" height="25"/>
<rect class="b" x="887" y="370" width="23" height="25"/>
<rect class="b" x="910" y="365" width="15" height="30"/>
<rect class="k" x="925" y="357" width="13" height="18"/>
<rect class="b" x="925" y="375" width="13" height="20"/>
<text class="u" x="797" y="297.5">macromolecular<tspan x="797" dy="6">complex</tspan><tspan x="797" dy="6">assembly</tspan></text>
<text class="u" x="864" y="275.5">mt<tspan x="864" dy="6">translation</tspan></text>
<text class="v" transform="rotate(-90 914 307)" x="914" y="307">extra<tspan x="914" dy="6">cellular</tspan><tspan x="914" dy="6">structure</tspan><tspan x="914" dy="6">organization</tspan></text>
<text class="t" transform="rotate(-90 802 392)" x="802" y="392">extracellular<tspan x="802" dy="7">matrix organization</tspan></text>
<text class="t" transform="rotate(-90 839 392)" x="839" y="392">cellular component<tspan x="839" dy="7">organization</tspan></text>
<text class="x" x="863" y="354">protein<tspan x="863" dy="4.3">complex</tspan><tspan x="863" dy="4.3">assembly</tspan></text>
<text class="x" x="888" y="352">reg of<tspan x="888" dy="4.3">cellular</tspan><tspan x="888" dy="4.3">organization</tspan></text>
</g>

<g id="node-cell-adhesion">
<rect class="p" x="938" y="265" width="109" height="105"/>
<rect class="p" x="938" y="370" width="56" height="25"/>
<rect class="p" x="994" y="370" width="56" height="25"/>
<rect class="p" x="1047" y="265" width="27" height="32"/>
<rect class="p" x="1047" y="297" width="27" height="25"/>
<rect class="b" x="1047" y="322" width="27" height="23"/>
<rect class="p" x="1047" y="345" width="27" height="25"/>
<rect class="p" x="1050" y="370" width="12" height="25"/>
<rect class="p" x="1062" y="370" width="12" height="25"/>
<text class="t" x="945" y="287.5">single organismal<tspan x="945" dy="6.8">cell–cell adhesion</tspan></text>
<text class="t" x="1049" y="281">cell–cell<tspan x="1049" dy="6.5">adhesion</tspan></text>
<text class="t" x="1049" y="307">reg of cell<tspan x="1049" dy="6.5">adhesion</tspan></text>
<text class="v" x="1049" y="352">single<tspan x="1049" dy="5">organism</tspan><tspan x="1049" dy="5">cell adhesion</tspan></text>
<text class="t" x="941" y="384">cell adhesion</text>
<text class="t" x="996" y="377.5">negative<tspan x="996" dy="6">regulation</tspan><tspan x="996" dy="6">of cell adhesion</tspan></text>
</g>

<g id="node-striated-muscle-cell-differentiation">
<rect class="p" x="795" y="395" width="90" height="87"/>
<rect class="p" x="885" y="395" width="20" height="50"/>
<rect class="p" x="885" y="445" width="20" height="17"/>
<rect class="p" x="885" y="462" width="20" height="15"/>
<rect class="b" x="885" y="477" width="20" height="15"/>
<rect class="p" x="795" y="482" width="90" height="10"/>
<text class="u" transform="rotate(-90 868 452)" x="868" y="452">cellular<tspan x="868" dy="5.8">developmental</tspan><tspan x="868" dy="5.8">process</tspan></text>
<text class="v" transform="rotate(-90 892 443)" x="892" y="443">cardiac muscle<tspan x="892" dy="5.5">cell differentiation</tspan></text>
<text class="u" x="886" y="452">head<tspan x="886" dy="6">dvlp</tspan></text>
<text class="v" x="797" y="486.5">positive regulation of<tspan x="797" dy="4.8">response to ext. stimulus</tspan></text>
</g>

<g id="node-apoptotic-process">
<rect class="p" x="795" y="492" width="67" height="94"/>
</g>

<g id="node-viral-process">
<rect class="b" x="862" y="492" width="43" height="38"/>
<rect class="p" x="862" y="530" width="43" height="56"/>
<rect class="b" x="862" y="558" width="24" height="28"/>
<rect class="b" x="886" y="572" width="19" height="14"/>
<text class="t" x="864" y="514">viral<tspan x="864" dy="7">process</tspan></text>
</g>

<g id="node-epithelial-cell-proliferation"><rect class="p q" x="905" y="395" width="62" height="60"/><text class="B" font-size="10" x="908" y="408">epithelial<tspan x="908" dy="12.5">cell</tspan><tspan x="908" dy="12.5">proliferation</tspan></text></g>
<g id="node-peptidyl-tyrosine-modification">
<rect class="p" x="967" y="395" width="50" height="33"/>
<rect class="p" x="997" y="395" width="20" height="25"/>
<rect class="p" x="967" y="428" width="23" height="27"/>
<rect class="b" x="990" y="428" width="9" height="27"/>
<rect class="b" x="999" y="428" width="9" height="13"/>
<rect class="b" x="1008" y="428" width="9" height="13"/>
<rect class="p" x="999" y="441" width="9" height="14"/>
<rect class="b" x="1008" y="441" width="9" height="14"/>
<rect class="q" fill="none" x="967" y="395" width="50" height="60"/>
<text class="x" x="969" y="400">translation</text>
<text class="B" font-size="8.2" x="968" y="411">peptidyl<tspan x="968" dy="9.5">tyrosine</tspan><tspan x="968" dy="9.5">modification</tspan></text>
</g>
<g id="node-single-organism-process"><rect class="p q" x="1017" y="395" width="35" height="60"/><text class="B" font-size="7.8" x="1018" y="418.5">single<tspan x="1018" dy="10">organism</tspan><tspan x="1018" dy="10">process</tspan></text></g>
<g id="node-sulfur-cmpd-MP"><rect class="p q" x="1052" y="395" width="24" height="60"/><text class="B" font-size="12" transform="rotate(-90 1065 452)" x="1065" y="452">sulfur<tspan x="1065" dy="10">cmpd MP</tspan></text></g>
<g id="node-cofactor-MP"><rect class="p q" x="905" y="455" width="45" height="33"/><text class="B" font-size="9" x="908" y="472.5">cofactor<tspan x="908" dy="10.5">MP</tspan></text></g>
<g id="node-developmental-process"><rect class="p q" x="950" y="455" width="35" height="33"/><text class="B" font-size="8.8" x="951" y="465">develop<tspan x="951" dy="10">mental</tspan><tspan x="951" dy="10">process</tspan></text></g>
<g id="node-catabolic-process"><rect class="p q" x="985" y="455" width="32" height="33"/><text class="B" font-size="6" x="987" y="462">catabolic<tspan x="987" dy="7">process</tspan></text></g>
<g id="node-cell-prolif"><rect class="p q" x="1017" y="455" width="30" height="33"/><text class="B" font-size="11.5" x="1019" y="471.5">cell<tspan x="1019" dy="11.5">prolif.</tspan></text></g>
<g id="node-localization"><rect class="p q" x="1047" y="455" width="29" height="33"/><text class="B" font-size="9" x="1051" y="467">local<tspan x="1051" dy="8.5">ization</tspan></text></g>
<g id="node-biological-adhesion"><rect class="p q" x="905" y="488" width="45" height="36"/><text class="B" font-size="5.5" x="908" y="507">biological<tspan x="908" dy="5">adhesion</tspan></text></g>
<g id="node-response-to-stimulus"><rect class="p q" x="950" y="488" width="35" height="36"/><text class="B" font-size="5.5" x="952" y="503">response<tspan x="952" dy="5.5">to</tspan><tspan x="952" dy="5.5">stimulus</tspan></text></g>
<g id="node-multicellular-organismal-process"><rect class="p q" x="905" y="524" width="45" height="31"/><text class="B" font-size="5.5" x="908" y="532">multicellular<tspan x="908" dy="5">organismal</tspan><tspan x="908" dy="5">process</tspan></text></g>
<g id="node-signaling"><rect class="p q" x="950" y="524" width="35" height="31"/><text class="B" font-size="6.5" x="955" y="542">signaling</text></g>
<g id="node-organic-hydroxy-compound-MP"><rect class="p q" x="905" y="555" width="45" height="31"/><text class="B" font-size="5" x="908" y="561">organic<tspan x="908" dy="4.7">hydroxy</tspan><tspan x="908" dy="4.7">compound</tspan><tspan x="908" dy="4.7">MP</tspan></text></g>
<g id="node-carbohydrate"><rect class="k" x="950" y="555" width="20" height="20"/><rect class="k" x="950" y="575" width="20" height="11"/><rect class="b" x="970" y="555" width="15" height="16"/><rect class="b" x="970" y="571" width="15" height="15"/><rect class="q" fill="none" x="950" y="555" width="35" height="31"/></g>
<g id="node-fat"><rect class="p q" x="985" y="488" width="32" height="34"/></g>
<g id="node-cell-activation"><rect class="p q" x="1017" y="488" width="20" height="34"/><text class="B" font-size="5" transform="rotate(-90 1026 518)" x="1026" y="518">cell<tspan x="1026" dy="5.5">activation</tspan></text></g>
<g id="node-death"><rect class="p q" x="1037" y="488" width="23" height="34"/><text class="B" font-size="6.5" x="1039" y="507">death</text></g>
<g id="node-r1"><rect class="p q" x="1060" y="488" width="16" height="34"/></g>
<g id="node-immune-system-process"><rect class="k q" x="985" y="522" width="32" height="23"/><text class="B" font-size="6" x="987" y="528">immune<tspan x="987" dy="5.5">system</tspan><tspan x="987" dy="5.5">process</tspan></text></g>
<g id="node-MP"><rect class="p q" x="1017" y="522" width="20" height="23"/><text class="B" font-size="6" x="1022" y="535.5">MP</text></g>
<g id="node-r2"><rect class="p q" x="1037" y="522" width="23" height="23"/></g>
<g id="node-r3"><rect class="p q" x="1060" y="522" width="16" height="23"/></g>
<g id="node-selenium-compound-MP"><rect class="p q" x="985" y="545" width="32" height="25"/><text class="B" font-size="4.5" x="987" y="552">selenium<tspan x="987" dy="4.5">compound</tspan><tspan x="987" dy="4.5">MP</tspan></text></g>
<g id="node-cell-killing"><rect class="p q" x="985" y="570" width="32" height="16"/><text class="B" font-size="6" x="987" y="580.5">cell killing</text></g>
<g id="node-r4"><rect class="k q" x="1017" y="545" width="20" height="20"/></g>
<g id="node-r5"><rect class="p q" x="1017" y="565" width="20" height="21"/></g>
<g id="node-r6">
<rect class="b q" x="1037" y="545" width="12" height="13"/><rect class="b q" x="1049" y="545" width="12" height="13"/><rect class="k q" x="1061" y="545" width="15" height="13"/>
<rect class="b q" x="1037" y="558" width="12" height="14"/><rect class="b q" x="1049" y="558" width="12" height="14"/><rect class="b q" x="1061" y="558" width="15" height="14"/>
<rect class="b q" x="1037" y="572" width="12" height="14"/><rect class="p q" x="1049" y="572" width="12" height="14"/><rect class="b q" x="1061" y="572" width="15" height="14"/>
<text class="B" font-size="5" x="1039" y="567">BP</text>
</g>

<g id="group-borders" fill="none" stroke="#000" stroke-width="3">
<rect x="2" y="4" width="431" height="582"/>
<rect x="433" y="4" width="362" height="372"/>
<rect x="433" y="376" width="362" height="210"/>
<rect x="795" y="4" width="277" height="261"/>
<rect x="795" y="265" width="143" height="130"/>
<rect x="938" y="265" width="134" height="130"/>
<rect x="795" y="395" width="110" height="97"/>
<rect x="795" y="492" width="67" height="94"/>
<rect x="862" y="492" width="43" height="94"/>
<rect x="905" y="395" width="167" height="191"/>
</g>

<g id="group-labels">
<text class="L" x="69" y="200">regulation of coenzyme MP</text>
<text class="L" x="480" y="96">oxidative</text>
<text class="L" x="480" y="119">phosphorylation</text>
<text class="L" x="447" y="413">single–multicellular</text>
<text class="L" x="447" y="437">organism process</text>
<text class="L" style="font-size:18.5px" x="826" y="137">cellular response</text>
<text class="L" style="font-size:18.5px" x="826" y="159">to endogenous</text>
<text class="L" style="font-size:18.5px" x="826" y="181">stimulus</text>
<text class="L" x="800" y="286.5">cellular</text>
<text class="L" x="800" y="308">component</text>
<text class="L" x="800" y="330.5">organization</text>
<text class="L" x="945" y="325">cell adhesion</text>
<text class="L" style="font-size:16px" x="796" y="410.5">striated</text>
<text class="L" style="font-size:16px" x="796" y="430">muscle</text>
<text class="L" style="font-size:16px" x="796" y="450">cell</text>
<text class="L" style="font-size:16px" x="796" y="469">differentiation</text>
<text class="L" style="font-size:21px" transform="rotate(-90 820 583)" x="820" y="583">apoptotic</text>
<text class="L" style="font-size:21px" transform="rotate(-90 842 585)" x="842" y="585">process</text>
<text class="L" style="font-size:22px" transform="rotate(-90 882 584)" x="882" y="584">viral</text>
<text class="L" style="font-size:22px" transform="rotate(-90 900 586)" x="900" y="586">process</text>
</g>
</svg>
